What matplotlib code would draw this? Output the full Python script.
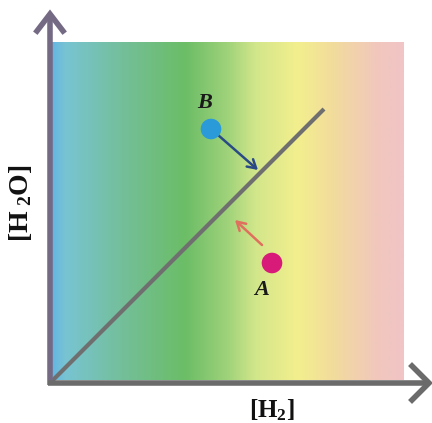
import numpy as np
import matplotlib
matplotlib.use("Agg")
import matplotlib.pyplot as plt
from matplotlib.colors import LinearSegmentedColormap

plt.rcParams["mathtext.fontset"] = "custom"
plt.rcParams["mathtext.rm"] = "Liberation Serif:bold"
plt.rcParams["mathtext.bf"] = "Liberation Serif:bold"
plt.rcParams["mathtext.it"] = "Liberation Serif:bold:italic"

# Background gradient stops along [H2] (fraction of the box width -> colour)
grad_pos = [0.0, 0.04, 0.2, 0.38, 0.5, 0.58, 0.7, 0.8, 0.92, 1.0]
grad_col = ["#63b6e4", "#78c4d2", "#74bf9a", "#6bbd66", "#9fd27a",
            "#d2e68a", "#f3ef8e", "#f2dc9c", "#f1c8bc", "#f1c4c6"]

# Equilibrium line (y = x) extent
line_x = [0, 274]
line_y = [0, 274]

# Two states and the direction they relax toward equilibrium
point_names = ["A", "B"]
point_x = [222, 161]
point_y = [120, 254]
point_colors = ["#d81b79", "#2b9ad9"]
arrow_start = [(212, 138), (168, 248)]
arrow_end = [(185, 163), (208, 213)]
arrow_colors = ["#e0705e", "#2a4a86"]
label_xy = [(212, 93), (155, 280)]

x_label = r"$\mathrm{[H_{2}]}$"
y_label = r"$\mathrm{[H_{\ 2}O]}$"

fig = plt.figure(figsize=(4.32, 4.23), dpi=100)
ax = fig.add_axes([0, 0, 1, 1])
ax.set_xlim(-50, 382)
ax.set_ylim(-40, 383)
ax.axis("off")

# Gradient box
cmap = LinearSegmentedColormap.from_list("bg", list(zip(grad_pos, grad_col)))
grad = np.linspace(0, 1, 512)[None, :]
ax.imshow(grad, cmap=cmap, extent=[1, 354, 3, 341], aspect="auto",
          interpolation="bilinear", zorder=0)

# Axes with open arrowheads
ax.plot([0, 0], [-2, 368], color="#756a84", lw=4, solid_capstyle="butt", zorder=3)
ax.plot([-2, 379], [0, 0], color="#6b6b6b", lw=4, solid_capstyle="butt", zorder=3)
ax.plot([-13, 0, 13], [352, 369, 352], color="#756a84", lw=4,
        solid_joinstyle="miter", zorder=3)
ax.plot([362, 379, 362], [17, 0, -17], color="#6b6b6b", lw=4,
        solid_joinstyle="miter", zorder=3)

# Equilibrium line
ax.plot(line_x, line_y, color="#6f6f6f", lw=3, solid_capstyle="butt", zorder=2)

# Points, arrows and labels
for name, px, py, pc, s, e, ac, lxy in zip(point_names, point_x, point_y,
                                           point_colors, arrow_start, arrow_end,
                                           arrow_colors, label_xy):
    ax.annotate("", xy=e, xytext=s,
                arrowprops=dict(arrowstyle="->,head_length=0.6,head_width=0.35",
                                color=ac, lw=1.8, shrinkA=0, shrinkB=0),
                zorder=4)
    ax.scatter([px], [py], s=220, color=pc, edgecolors="none", zorder=5)
    ax.text(lxy[0], lxy[1], name, fontsize=16, fontweight="bold", fontstyle="italic",
            family="Liberation Serif", color="#1a1a1a", ha="center", va="center",
            zorder=6)

ax.text(222, -27, x_label, fontsize=18, ha="center", va="center", color="#111111")
ax.text(-30, 180, y_label, fontsize=20, ha="center", va="center", rotation=90,
        color="#111111")

fig.savefig("out.png", dpi=100, facecolor="white")
